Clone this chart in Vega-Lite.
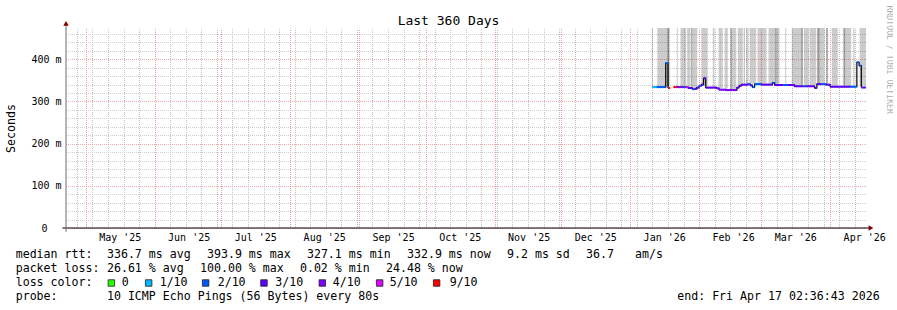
{
  "$schema": "https://vega.github.io/schema/vega-lite/v6.json",
  "background": "white",
  "padding": {"left": 5, "top": 5, "right": 0, "bottom": 0},
  "bounds": "flush",
  "spacing": 20,
  "config": {
    "view": {"stroke": null},
    "font": "DejaVu Sans Mono",
    "axis": {"labelFont": "DejaVu Sans Mono", "titleFont": "DejaVu Sans Mono", "titleFontWeight": "normal", "labelColor": "#000000", "titleColor": "#000000"}
  },
  "datasets": {
    "median": [
      {"t": "2026-01-11T00:00:00Z", "e": "2026-01-13T00:00:00Z", "m": 0.334, "l": 1, "g": 1},
      {"t": "2026-01-13T00:00:00Z", "e": "2026-01-17T00:00:00Z", "m": 0.334, "l": 2, "g": 1},
      {"t": "2026-01-17T00:00:00Z", "e": "2026-01-18T00:00:00Z", "m": 0.391, "l": 2, "g": 1},
      {"t": "2026-01-18T00:00:00Z", "e": "2026-01-19T00:00:00Z", "m": 0.332, "l": 9, "g": 1},
      {"t": "2026-01-20T12:00:00Z", "e": "2026-01-22T00:00:00Z", "m": 0.334, "l": 9, "g": 2},
      {"t": "2026-01-22T00:00:00Z", "e": "2026-01-25T00:00:00Z", "m": 0.334, "l": 4, "g": 2},
      {"t": "2026-01-25T00:00:00Z", "e": "2026-01-26T00:00:00Z", "m": 0.334, "l": 2, "g": 2},
      {"t": "2026-01-26T00:00:00Z", "e": "2026-01-27T00:00:00Z", "m": 0.334, "l": 5, "g": 2},
      {"t": "2026-01-27T00:00:00Z", "e": "2026-01-29T00:00:00Z", "m": 0.332, "l": 3, "g": 2},
      {"t": "2026-01-29T00:00:00Z", "e": "2026-01-30T00:00:00Z", "m": 0.329, "l": 2, "g": 2},
      {"t": "2026-01-30T00:00:00Z", "e": "2026-01-31T00:00:00Z", "m": 0.330, "l": 3, "g": 2},
      {"t": "2026-01-31T00:00:00Z", "e": "2026-02-01T00:00:00Z", "m": 0.333, "l": 3, "g": 2},
      {"t": "2026-02-01T00:00:00Z", "e": "2026-02-02T00:00:00Z", "m": 0.337, "l": 2, "g": 2},
      {"t": "2026-02-02T00:00:00Z", "e": "2026-02-03T00:00:00Z", "m": 0.340, "l": 3, "g": 2},
      {"t": "2026-02-03T00:00:00Z", "e": "2026-02-04T00:00:00Z", "m": 0.355, "l": 3, "g": 2},
      {"t": "2026-02-04T00:00:00Z", "e": "2026-02-09T00:00:00Z", "m": 0.333, "l": 3, "g": 2},
      {"t": "2026-02-09T00:00:00Z", "e": "2026-02-10T00:00:00Z", "m": 0.331, "l": 4, "g": 2},
      {"t": "2026-02-10T00:00:00Z", "e": "2026-02-13T00:00:00Z", "m": 0.328, "l": 4, "g": 2},
      {"t": "2026-02-13T00:00:00Z", "e": "2026-02-18T00:00:00Z", "m": 0.327, "l": 4, "g": 2},
      {"t": "2026-02-18T00:00:00Z", "e": "2026-02-19T00:00:00Z", "m": 0.333, "l": 3, "g": 2},
      {"t": "2026-02-19T00:00:00Z", "e": "2026-02-20T00:00:00Z", "m": 0.337, "l": 3, "g": 2},
      {"t": "2026-02-20T00:00:00Z", "e": "2026-02-23T00:00:00Z", "m": 0.340, "l": 3, "g": 2},
      {"t": "2026-02-23T00:00:00Z", "e": "2026-02-24T00:00:00Z", "m": 0.341, "l": 2, "g": 2},
      {"t": "2026-02-24T00:00:00Z", "e": "2026-02-25T00:00:00Z", "m": 0.338, "l": 3, "g": 2},
      {"t": "2026-02-25T00:00:00Z", "e": "2026-02-26T00:00:00Z", "m": 0.334, "l": 2, "g": 2},
      {"t": "2026-02-26T00:00:00Z", "e": "2026-03-01T00:00:00Z", "m": 0.341, "l": 2, "g": 2},
      {"t": "2026-03-01T00:00:00Z", "e": "2026-03-06T00:00:00Z", "m": 0.340, "l": 3, "g": 2},
      {"t": "2026-03-06T00:00:00Z", "e": "2026-03-07T00:00:00Z", "m": 0.344, "l": 2, "g": 2},
      {"t": "2026-03-07T00:00:00Z", "e": "2026-03-11T00:00:00Z", "m": 0.339, "l": 3, "g": 2},
      {"t": "2026-03-11T00:00:00Z", "e": "2026-03-13T00:00:00Z", "m": 0.339, "l": 2, "g": 2},
      {"t": "2026-03-13T00:00:00Z", "e": "2026-03-16T00:00:00Z", "m": 0.339, "l": 3, "g": 2},
      {"t": "2026-03-16T00:00:00Z", "e": "2026-03-20T00:00:00Z", "m": 0.336, "l": 3, "g": 2},
      {"t": "2026-03-20T00:00:00Z", "e": "2026-03-21T00:00:00Z", "m": 0.336, "l": 2, "g": 2},
      {"t": "2026-03-21T00:00:00Z", "e": "2026-03-25T00:00:00Z", "m": 0.336, "l": 3, "g": 2},
      {"t": "2026-03-25T00:00:00Z", "e": "2026-03-26T00:00:00Z", "m": 0.332, "l": 3, "g": 2},
      {"t": "2026-03-26T00:00:00Z", "e": "2026-03-28T00:00:00Z", "m": 0.341, "l": 3, "g": 2},
      {"t": "2026-03-28T00:00:00Z", "e": "2026-03-30T00:00:00Z", "m": 0.341, "l": 2, "g": 2},
      {"t": "2026-03-30T00:00:00Z", "e": "2026-04-01T00:00:00Z", "m": 0.340, "l": 3, "g": 2},
      {"t": "2026-04-01T00:00:00Z", "e": "2026-04-10T00:00:00Z", "m": 0.335, "l": 3, "g": 2},
      {"t": "2026-04-10T00:00:00Z", "e": "2026-04-13T00:00:00Z", "m": 0.335, "l": 2, "g": 2},
      {"t": "2026-04-13T00:00:00Z", "e": "2026-04-14T00:00:00Z", "m": 0.393, "l": 2, "g": 2},
      {"t": "2026-04-14T00:00:00Z", "e": "2026-04-15T00:00:00Z", "m": 0.385, "l": 2, "g": 2},
      {"t": "2026-04-15T00:00:00Z", "e": "2026-04-17T02:36:43Z", "m": 0.333, "l": 3, "g": 2}
    ],
    "smoke": [
      {"t": "2026-01-10T17:00:00Z", "e": "2026-01-11T04:00:00Z", "s": 1, "lo": 0.336},
      {"t": "2026-01-13T04:00:00Z", "e": "2026-01-17T15:00:00Z", "s": 1, "lo": 0.336},
      {"t": "2026-01-17T15:00:00Z", "e": "2026-01-18T16:00:00Z", "s": 2, "lo": 0.336},
      {"t": "2026-01-21T23:00:00Z", "e": "2026-01-22T10:00:00Z", "s": 1, "lo": 0.336},
      {"t": "2026-01-23T15:00:00Z", "e": "2026-01-26T05:00:00Z", "s": 1, "lo": 0.336},
      {"t": "2026-01-26T15:00:00Z", "e": "2026-01-28T03:00:00Z", "s": 1, "lo": 0.334},
      {"t": "2026-01-28T11:00:00Z", "e": "2026-01-28T22:00:00Z", "s": 2, "lo": 0.334},
      {"t": "2026-01-28T22:00:00Z", "e": "2026-01-31T04:00:00Z", "s": 1, "lo": 0.332},
      {"t": "2026-02-01T23:00:00Z", "e": "2026-02-04T22:00:00Z", "s": 1, "lo": 0.338},
      {"t": "2026-02-07T04:00:00Z", "e": "2026-02-07T23:00:00Z", "s": 1, "lo": 0.335},
      {"t": "2026-02-09T18:00:00Z", "e": "2026-02-11T16:00:00Z", "s": 1, "lo": 0.331},
      {"t": "2026-02-12T11:00:00Z", "e": "2026-02-13T22:00:00Z", "s": 1, "lo": 0.330},
      {"t": "2026-02-15T03:00:00Z", "e": "2026-02-15T17:00:00Z", "s": 2, "lo": 0.329},
      {"t": "2026-02-15T17:00:00Z", "e": "2026-02-17T17:00:00Z", "s": 1, "lo": 0.329},
      {"t": "2026-02-18T10:00:00Z", "e": "2026-02-20T16:00:00Z", "s": 1, "lo": 0.337},
      {"t": "2026-02-21T03:00:00Z", "e": "2026-02-21T11:00:00Z", "s": 2, "lo": 0.342},
      {"t": "2026-02-22T05:00:00Z", "e": "2026-02-23T06:00:00Z", "s": 1, "lo": 0.342},
      {"t": "2026-02-23T17:00:00Z", "e": "2026-02-26T17:00:00Z", "s": 1, "lo": 0.342},
      {"t": "2026-02-27T07:00:00Z", "e": "2026-03-03T08:00:00Z", "s": 1, "lo": 0.342},
      {"t": "2026-03-04T06:00:00Z", "e": "2026-03-07T06:00:00Z", "s": 1, "lo": 0.341},
      {"t": "2026-03-07T06:00:00Z", "e": "2026-03-07T20:00:00Z", "s": 2, "lo": 0.341},
      {"t": "2026-03-07T20:00:00Z", "e": "2026-03-09T05:00:00Z", "s": 1, "lo": 0.341},
      {"t": "2026-03-11T18:00:00Z", "e": "2026-03-12T05:00:00Z", "s": 1, "lo": 0.341},
      {"t": "2026-03-14T17:00:00Z", "e": "2026-03-18T23:00:00Z", "s": 1, "lo": 0.338},
      {"t": "2026-03-18T23:00:00Z", "e": "2026-03-19T16:00:00Z", "s": 2, "lo": 0.338},
      {"t": "2026-03-20T03:00:00Z", "e": "2026-03-22T06:00:00Z", "s": 1, "lo": 0.338},
      {"t": "2026-03-22T17:00:00Z", "e": "2026-03-25T17:00:00Z", "s": 1, "lo": 0.338},
      {"t": "2026-03-26T04:00:00Z", "e": "2026-03-27T05:00:00Z", "s": 2, "lo": 0.342},
      {"t": "2026-03-27T05:00:00Z", "e": "2026-03-29T11:00:00Z", "s": 1, "lo": 0.342},
      {"t": "2026-03-30T05:00:00Z", "e": "2026-03-30T22:00:00Z", "s": 2, "lo": 0.342},
      {"t": "2026-04-01T17:00:00Z", "e": "2026-04-04T10:00:00Z", "s": 1, "lo": 0.337},
      {"t": "2026-04-06T16:00:00Z", "e": "2026-04-07T03:00:00Z", "s": 1, "lo": 0.337},
      {"t": "2026-04-07T03:00:00Z", "e": "2026-04-07T18:00:00Z", "s": 2, "lo": 0.337},
      {"t": "2026-04-07T18:00:00Z", "e": "2026-04-10T11:00:00Z", "s": 1, "lo": 0.337},
      {"t": "2026-04-11T08:00:00Z", "e": "2026-04-11T23:00:00Z", "s": 1, "lo": 0.337},
      {"t": "2026-04-14T05:00:00Z", "e": "2026-04-17T02:36:43Z", "s": 1, "lo": 0.337}
    ],
    "frame": [
      {"t": "2025-04-20T12:00:00Z", "t2": "2026-04-19T06:00:00Z", "v": 0, "v2": 0, "k": "x"},
      {"t": "2025-04-22T02:36:43Z", "t2": "2025-04-22T02:36:43Z", "v": -0.009, "v2": 0.485, "k": "y"}
    ],
    "arrows": [
      {"t": "2026-04-19T08:36:00Z", "v": 0, "dir": "right"},
      {"t": "2025-04-22T02:36:43Z", "v": 0.4854, "dir": "up"}
    ],
    "legendText": [
      {"line": 1, "col": 0, "txt": "median rtt:"},
      {"line": 1, "col": 13.04, "txt": "336.7 ms avg"},
      {"line": 1, "col": 27.33, "txt": "393.9 ms max"},
      {"line": 1, "col": 41.61, "txt": "327.1 ms min"},
      {"line": 1, "col": 55.9, "txt": "332.9 ms now"},
      {"line": 1, "col": 70.19, "txt": "9.2 ms sd"},
      {"line": 1, "col": 81.47, "txt": "36.7"},
      {"line": 1, "col": 88.47, "txt": "am/s"},
      {"line": 2, "col": 0, "txt": "packet loss:"},
      {"line": 2, "col": 13.04, "txt": "26.61 % avg"},
      {"line": 2, "col": 26.33, "txt": "100.00 % max"},
      {"line": 2, "col": 40.61, "txt": "0.02 % min"},
      {"line": 2, "col": 52.9, "txt": "24.48 % now"},
      {"line": 3, "col": 0, "txt": "loss color:"},
      {"line": 3, "col": 15.14, "txt": "0"},
      {"line": 3, "col": 20.57, "txt": "1/10"},
      {"line": 3, "col": 28.86, "txt": "2/10"},
      {"line": 3, "col": 37.1, "txt": "3/10"},
      {"line": 3, "col": 45.29, "txt": "4/10"},
      {"line": 3, "col": 53.43, "txt": "5/10"},
      {"line": 3, "col": 62, "txt": "9/10"},
      {"line": 4, "col": 0, "txt": "probe:"},
      {"line": 4, "col": 13.04, "txt": "10 ICMP Echo Pings (56 Bytes) every 80s"}
    ],
    "lossKeys": [
      {"line": 3, "col": 13.67, "l": 0},
      {"line": 3, "col": 19.0, "l": 1},
      {"line": 3, "col": 27.14, "l": 2},
      {"line": 3, "col": 35.47, "l": 3},
      {"line": 3, "col": 43.81, "l": 4},
      {"line": 3, "col": 52.0, "l": 5},
      {"line": 3, "col": 60.14, "l": 9}
    ]
  },
  "vconcat": [
    {
      "width": 800,
      "height": 200,
      "resolve": {"axis": {"x": "independent", "y": "independent"}, "scale": {"color": "independent"}},
      "layer": [
        {
          "data": {"name": "smoke"},
          "mark": {"type": "rect"},
          "encoding": {
            "x": {"field": "t", "type": "temporal",
              "scale": {"type": "utc", "domain": [{"year": 2025, "month": 4, "date": 22, "hours": 2, "minutes": 36, "seconds": 43, "utc": true}, {"year": 2026, "month": 4, "date": 17, "hours": 2, "minutes": 36, "seconds": 43, "utc": true}], "nice": false},
              "axis": null},
            "x2": {"field": "e"},
            "y": {"field": "lo", "type": "quantitative",
              "scale": {"domain": [0, 0.4742], "nice": false, "zero": true},
              "axis": {"orient": "left", "values": [0.02, 0.04, 0.06, 0.08, 0.12, 0.14, 0.16, 0.18, 0.22, 0.24, 0.26, 0.28, 0.32, 0.34, 0.36, 0.38, 0.42, 0.44, 0.46],
                "grid": true, "gridColor": "#cfcfcf", "gridDash": [1, 1], "gridDashOffset": 0.5, "labels": false, "ticks": false, "domain": false, "title": null}},
            "y2": {"datum": 0.4742},
            "color": {"value": "#000000"},
            "opacity": {"condition": {"test": "datum.s == 2", "value": 0.4}, "value": 0.2}
          }
        },
        {
          "data": {"name": "median"},
          "mark": {"type": "line", "interpolate": "step-after", "color": "#000000", "strokeWidth": 1.2},
          "encoding": {
            "x": {"field": "t", "type": "temporal",
              "axis": {"orient": "bottom",
                "values": [1746057600000, 1748736000000, 1751328000000, 1754006400000, 1756684800000, 1759276800000, 1761955200000, 1764547200000, 1767225600000, 1769904000000, 1772323200000, 1775001600000],
                "labelExpr": "utcFormat(datum.value, \"%b '%y\")",
                "labelOffset": 34, "labelFlush": false, "labelOverlap": false, "labelBound": false, "labelFontSize": 10, "labelPadding": 4, "tickSize": 0, "ticks": false, "domain": false,
                "grid": true, "gridColor": "#eea0a0", "gridDash": [1, 1], "gridDashOffset": 0.5, "title": null}},
            "y": {"field": "m", "type": "quantitative",
              "axis": {"orient": "left", "values": [0, 0.1, 0.2, 0.3, 0.4],
                "grid": true, "gridColor": "#f0a8a8", "gridDash": [1, 1], "gridDashOffset": 0.5,
                "labelExpr": "datum.value == 0 ? '0' : format(round(datum.value*1000),'d') + ' m'",
                "labelPadding": {"condition": {"test": "datum.value == 0", "value": 19}, "value": 5},
                "labelFontSize": 10, "labelOverlap": false, "labelFlush": false,
                "ticks": false, "tickSize": 0, "domain": false,
                "title": "Seconds", "titleFontSize": 11.6, "titleAngle": -90, "titleX": -55, "titleY": 100, "titleAlign": "center", "titleBaseline": "middle"}},
            "detail": {"field": "g", "type": "nominal"}
          }
        },
        {
          "data": {"name": "median"},
          "mark": {"type": "rule", "strokeWidth": 2, "strokeCap": "butt"},
          "encoding": {
            "x": {"field": "t", "type": "temporal", "axis": null},
            "x2": {"field": "e"},
            "y": {"field": "m", "type": "quantitative", "axis": null},
            "color": {"field": "l", "type": "nominal", "legend": null,
              "scale": {"domain": [0, 1, 2, 3, 4, 5, 9], "range": ["#26ff00", "#00b8ff", "#0059ff", "#5e00ff", "#7e00ff", "#dd00ff", "#ff0000"]}}
          }
        },
        {
          "data": {"name": "frame"},
          "mark": {"type": "rule", "strokeWidth": 1},
          "encoding": {
            "x": {"field": "t", "type": "temporal",
              "axis": {"orient": "bottom",
                "values": [1745712000000, 1746316800000, 1746921600000, 1747526400000, 1748131200000, 1749340800000, 1749945600000, 1750550400000, 1751155200000, 1751760000000, 1752364800000, 1752969600000, 1753574400000, 1754179200000, 1754784000000, 1755388800000, 1755993600000, 1756598400000, 1757203200000, 1757808000000, 1758412800000, 1759017600000, 1759622400000, 1760227200000, 1760832000000, 1761436800000, 1762041600000, 1762646400000, 1763251200000, 1763856000000, 1764460800000, 1765065600000, 1765670400000, 1766275200000, 1766880000000, 1767484800000, 1768089600000, 1768694400000, 1769299200000, 1770508800000, 1771113600000, 1771718400000, 1772928000000, 1773532800000, 1774137600000, 1774742400000, 1775347200000, 1775952000000],
                "grid": true, "gridColor": "#c0c0c0", "gridDash": [1, 1], "gridDashOffset": 0.5, "gridWidth": 1, "labels": false, "ticks": false, "domain": false, "title": null}},
            "x2": {"field": "t2"},
            "y": {"field": "v", "type": "quantitative", "axis": null},
            "y2": {"field": "v2"},
            "color": {"condition": {"test": "datum.k == 'x'", "value": "#000000"}, "value": "#6a6a6a"}
          }
        },
        {
          "data": {"name": "arrows"},
          "mark": {"type": "point", "filled": true, "size": 30, "opacity": 1, "color": "#800000"},
          "encoding": {
            "x": {"field": "t", "type": "temporal",
              "axis": {"orient": "top", "labels": false, "ticks": false, "domain": false, "grid": false,
                "title": "Last 360 Days", "titleFontSize": 13, "titleX": 382, "titleY": -3.5, "titleAlign": "center", "titleBaseline": "alphabetic", "titleAngle": 0}},
            "y": {"field": "v", "type": "quantitative",
              "axis": {"orient": "right", "labels": false, "ticks": false, "domain": false, "grid": false,
                "title": "RRDTOOL / TOBI OETIKER", "titleFontSize": 8.2, "titleColor": "#b0b0b0", "titleAngle": 90, "titleX": 22, "titleY": -23, "titleAlign": "left", "titleBaseline": "middle"}},
            "shape": {"field": "dir", "type": "nominal", "legend": null,
              "scale": {"domain": ["right", "up"], "range": ["triangle-right", "triangle-up"]}}
          }
        }
      ]
    },
    {
      "width": 800,
      "height": 56,
      "layer": [
        {
          "data": {"name": "legendText"},
          "mark": {"type": "text", "align": "left", "baseline": "middle", "font": "DejaVu Sans Mono", "fontSize": 11.6, "color": "#000000"},
          "encoding": {
            "x": {"field": "col", "type": "quantitative", "scale": {"domain": [7.19, 121.48], "nice": false, "zero": false}, "axis": null},
            "y": {"field": "line", "type": "ordinal", "scale": {"type": "point", "domain": [1, 2, 3, 4], "padding": 0.5}, "axis": null},
            "text": {"field": "txt"}
          }
        },
        {
          "data": {"values": [{"line": 4, "col": 123.43, "txt": "end: Fri Apr 17 02:36:43 2026"}]},
          "mark": {"type": "text", "align": "right", "baseline": "middle", "font": "DejaVu Sans Mono", "fontSize": 11.6, "color": "#000000"},
          "encoding": {
            "x": {"field": "col", "type": "quantitative", "axis": null},
            "y": {"field": "line", "type": "ordinal", "axis": null},
            "text": {"field": "txt"}
          }
        },
        {
          "data": {"name": "lossKeys"},
          "mark": {"type": "point", "shape": "square", "filled": true, "size": 42, "stroke": "#222222", "strokeWidth": 0.8, "opacity": 1},
          "encoding": {
            "x": {"field": "col", "type": "quantitative", "axis": null},
            "y": {"field": "line", "type": "ordinal", "axis": null},
            "fill": {"field": "l", "type": "nominal", "legend": null,
              "scale": {"domain": [0, 1, 2, 3, 4, 5, 9], "range": ["#26ff00", "#00b8ff", "#0059ff", "#5e00ff", "#7e00ff", "#dd00ff", "#ff0000"]}}
          }
        }
      ]
    }
  ]
}
